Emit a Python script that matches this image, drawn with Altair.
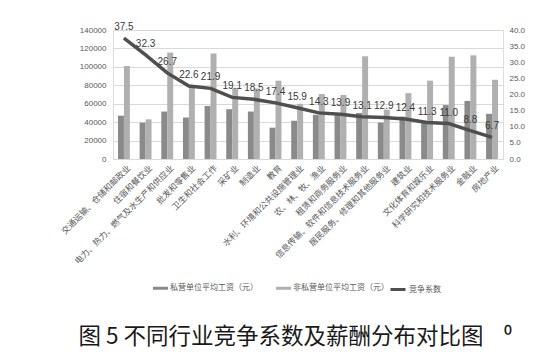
import altair as alt
import pandas as pd

industries = [
    "交通运输、仓储和邮政业", "住宿和餐饮业", "电力、热力、燃气及水生产和供应业",
    "批发和零售业", "卫生和社会工作", "采矿业", "制造业", "教育",
    "水利、环境和公共设施管理业", "农、林、牧、渔业", "租赁和商务服务业",
    "信息传输、软件和信息技术服务业", "居民服务、修理和其他服务业", "建筑业",
    "文化体育和娱乐业", "科学研究和技术服务业", "金融业", "房地产业",
]
private_wage = [47000, 39500, 51500, 45000, 57500, 54000, 51500, 34000, 41500,
                48000, 47500, 50000, 39500, 46000, 39000, 58500, 63000, 49000]
nonprivate_wage = [101000, 43000, 115500, 78000, 114500, 77000, 76500, 85000, 60000,
                   70500, 69500, 111500, 53500, 71500, 85000, 111000, 112500, 86000]
competition = [37.5, 32.3, 26.7, 22.6, 21.9, 19.1, 18.5, 17.4, 15.9,
               14.3, 13.9, 13.1, 12.9, 12.4, 11.3, 11.0, 8.8, 6.7]
series_names = ["私营单位平均工资（元）", "非私营单位平均工资（元）"]
line_name = "竞争系数"
figure_title = "图 5 不同行业竞争系数及薪酬分布对比图" + "\u00a0" * 4 + "⁰"

rows = []
for ind, p, n in zip(industries, private_wage, nonprivate_wage):
    rows.append({"industry": ind, "series": series_names[0], "wage": p})
    rows.append({"industry": ind, "series": series_names[1], "wage": n})
bar_df = pd.DataFrame(rows)
line_df = pd.DataFrame({"industry": industries, "coef": competition, "name": line_name})

CJK = "Noto Sans CJK SC"
LAT = "Liberation Sans"
GRAY = "#595959"

x_enc = alt.X(
    "industry:N", sort=industries, title=None,
    scale=alt.Scale(paddingInner=0.45, paddingOuter=0.23),
    axis=alt.Axis(labelAngle=-45, labelAlign="right", labelBaseline="middle",
                  labelFont=CJK, labelFontSize=8.5, labelColor=GRAY, labelOffset=5,
                  ticks=False, domainColor="#d9d9d9", labelPadding=7, labelLimit=0),
)

bars = alt.Chart(bar_df).mark_bar().encode(
    x=x_enc,
    xOffset=alt.XOffset("series:N", sort=series_names,
                        scale=alt.Scale(paddingInner=0.0, paddingOuter=0.0)),
    y=alt.Y("wage:Q", title=None,
            scale=alt.Scale(domain=[0, 140000], nice=False),
            axis=alt.Axis(values=list(range(0, 140001, 20000)), format="d",
                          domain=False, ticks=False, labelFont=LAT, labelFontSize=8,
                          labelColor=GRAY, gridColor="#d9d9d9", labelPadding=7)),
    color=alt.Color("series:N", sort=series_names,
                    scale=alt.Scale(domain=series_names, range=["#8a8a8a", "#b0b0b0"]),
                    legend=alt.Legend(orient="none", legendX=40, legendY=250.5,
                                      direction="horizontal", title=None,
                                      symbolType="M-1,-0.2H1V0.2H-1Z", symbolSize=225,
                                      symbolStrokeWidth=0, labelFont=CJK, labelFontSize=8,
                                      labelColor=GRAY, labelOffset=2, columnPadding=18)),
)

base = alt.Chart(line_df).encode(
    x=alt.X("industry:N", sort=industries),
    y=alt.Y("coef:Q", title=None,
            scale=alt.Scale(domain=[0, 40], nice=False),
            axis=alt.Axis(orient="right", values=[0, 5, 10, 15, 20, 25, 30, 35, 40],
                          format=".1f", domain=False, ticks=False, grid=False,
                          labelFont=LAT, labelFontSize=8, labelColor=GRAY, labelPadding=6)),
)

line = base.mark_line(strokeWidth=3.5).encode(
    stroke=alt.Stroke("name:N",
                      scale=alt.Scale(domain=[line_name], range=["#4f4f4f"]),
                      legend=alt.Legend(orient="none", legendX=276, legendY=250.5, title=None,
                                        symbolType="M-1,0H1", symbolSize=225,
                                        symbolStrokeWidth=3, labelFont=CJK, labelFontSize=8,
                                        labelColor=GRAY, labelOffset=2)),
)

labels = base.mark_text(dy=-11, font=LAT, fontSize=10, color="#3a3a3a").encode(
    text=alt.Text("coef:Q", format=".1f"),
)

chart = alt.layer(bars, alt.layer(line, labels)).resolve_scale(
    y="independent"
).properties(
    width=390,
    height=129,
    autosize=alt.AutoSizeParams(type="none"),
    padding={"left": 113, "top": 30, "right": 47, "bottom": 195},
    title=alt.TitleParams(
        figure_title,
        orient="bottom", anchor="middle", frame="group", dx=-13, offset=30,
        font=CJK, fontSize=22.5, fontWeight="normal", color="#1a1a1a",
    ),
).configure_view(stroke=None).configure(background="white")

chart.save("out.html", embed_options={"renderer": "svg", "actions": False})
